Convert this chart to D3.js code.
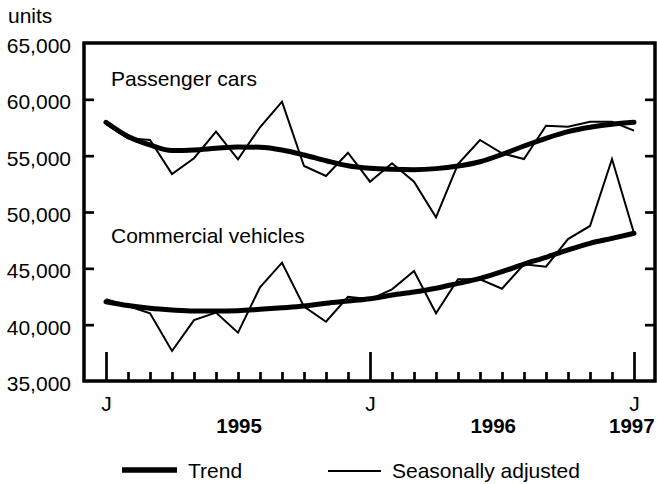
<!DOCTYPE html>
<html>
  <head>
    <meta charset="utf-8">
    <title>Passenger cars and commercial vehicles</title>
    <script src="https://d3js.org/d3.v7.min.js"></script>
    <style>
      body { margin: 0; background: #fff; }
      svg { font-family: "Liberation Sans", Arial, sans-serif; }
      .axis text { font-size: 21px; fill: #000; }
      .axis .domain { display: none; }
      .axis line { stroke: #000; stroke-width: 2.7px; }
      .label { font-size: 21px; fill: #000; }
      .year { font-size: 20.5px; font-weight: bold; fill: #000; }
    </style>
  </head>
  <body>
    <svg id="chart" width="657" height="484"></svg>
    <script>
      // chart data, monthly Jan 1995 - Jan 1997
      var months = d3.range(25);
      var yearStarts = [0, 12, 24];
      var yearLabels = ["1995", "1996", "1997"];
      var yearLabelPos = [6.05, 17.6, 23.9];
      var yTicks = [35000, 40000, 45000, 50000, 55000, 60000, 65000];
      var carsSA = [57800, 56540, 56390, 53370, 54770, 57130, 54680, 57520, 59790, 54080, 53200, 55260, 52690,
                    54320, 52690, 49530, 54260, 56390, 55210, 54700, 57660, 57570, 58010, 58010, 57220];
      var carsTrend = [57960, 56700, 55950, 55450, 55500, 55650, 55780, 55740, 55500, 55060, 54550, 54100, 53880,
                       53790, 53760, 53850, 54080, 54460, 55110, 55860, 56540, 57130, 57520, 57780, 57960];
      var commSA = [42250, 41660, 41010, 37660, 40410, 41070, 39290, 43320, 45500, 41600, 40260, 42480, 42250,
                    43140, 44760, 41010, 44030, 44030, 43190, 45360, 45150, 47600, 48760, 54700, 48110];
      var commTrend = [42040, 41700, 41450, 41300, 41210, 41210, 41240, 41360, 41500, 41660, 41900, 42100, 42300,
                       42630, 42900, 43230, 43670, 44110, 44700, 45380, 45980, 46630, 47220, 47660, 48110];

      var svg = d3.select("#chart");
      var frame = { left: 84, right: 655, top: 43, bottom: 381 };

      // scales
      var x = d3.scaleLinear()
        .domain([0, 24])
        .range([106, 634]);
      var y = d3.scaleLinear()
        .domain([35000, 65000])
        .range([frame.bottom, frame.top]);

      var line = d3.line()
        .x(function(d, i) { return x(months[i]); })
        .y(function(d) { return y(d); });
      var smooth = d3.line()
        .x(function(d, i) { return x(months[i]); })
        .y(function(d) { return y(d); })
        .curve(d3.curveMonotoneX);

      // y axis labels outside the frame
      svg.append("g")
        .attr("class", "axis")
        .attr("transform", "translate(" + frame.left + ",2)")
        .call(d3.axisLeft(y).tickValues(yTicks).tickSize(0).tickPadding(13).tickFormat(d3.format(",")))
        .selectAll("text")
          .attr("dy", "0.36em");

      // inner tick marks on both sides
      var inner = yTicks.slice(1, -1);
      svg.append("g")
        .attr("class", "axis")
        .attr("transform", "translate(" + frame.left + ",0)")
        .call(d3.axisRight(y).tickValues(inner).tickSize(10).tickFormat(""));
      svg.append("g")
        .attr("class", "axis")
        .attr("transform", "translate(" + frame.right + ",0)")
        .call(d3.axisLeft(y).tickValues(inner).tickSize(10).tickFormat(""));

      // month ticks
      svg.append("g")
        .attr("class", "axis")
        .attr("transform", "translate(0," + frame.bottom + ")")
        .call(d3.axisTop(x).tickValues(months.filter(function(m) { return m % 12 != 0; })).tickSize(9).tickFormat(""));
      svg.append("g")
        .attr("class", "axis")
        .attr("transform", "translate(0," + frame.bottom + ")")
        .call(d3.axisTop(x).tickValues(yearStarts).tickSize(29).tickFormat(""));
      svg.append("g")
        .attr("class", "axis")
        .attr("transform", "translate(0," + frame.bottom + ")")
        .call(d3.axisBottom(x).tickValues(yearStarts).tickSize(0).tickPadding(15).tickFormat(function() { return "J"; }));

      svg.selectAll(".year")
        .data(yearLabels)
        .enter().append("text")
          .attr("class", "year")
          .attr("text-anchor", "middle")
          .attr("x", function(d, i) { return x(yearLabelPos[i]); })
          .attr("y", 433)
          .text(function(d) { return d; });

      // frame
      svg.append("rect")
        .attr("x", frame.left)
        .attr("y", frame.top)
        .attr("width", frame.right - frame.left)
        .attr("height", frame.bottom - frame.top)
        .attr("fill", "none")
        .attr("stroke", "#000")
        .attr("stroke-width", 3.5);

      // series
      [carsTrend, commTrend].forEach(function(s) {
        svg.append("path")
          .attr("d", smooth(s))
          .attr("fill", "none")
          .attr("stroke", "#000")
          .attr("stroke-width", 5)
          .attr("stroke-linecap", "round");
      });
      [carsSA, commSA].forEach(function(s) {
        svg.append("path")
          .attr("d", line(s))
          .attr("fill", "none")
          .attr("stroke", "#000")
          .attr("stroke-width", 2)
          .attr("stroke-linejoin", "miter");
      });

      // series names
      svg.append("text").attr("class", "label").attr("x", 111).attr("y", 86).text("Passenger cars");
      svg.append("text").attr("class", "label").attr("x", 111).attr("y", 243).text("Commercial vehicles");
      svg.append("text").attr("class", "label").attr("x", 8).attr("y", 23).text("units");

      // legend
      svg.append("line")
        .attr("x1", 122).attr("x2", 177).attr("y1", 470).attr("y2", 470)
        .attr("stroke", "#000").attr("stroke-width", 5.5);
      svg.append("text").attr("class", "label").attr("x", 188).attr("y", 478).text("Trend");
      svg.append("line")
        .attr("x1", 328).attr("x2", 381).attr("y1", 471).attr("y2", 471)
        .attr("stroke", "#000").attr("stroke-width", 2);
      svg.append("text").attr("class", "label").attr("x", 392).attr("y", 478).text("Seasonally adjusted");
    </script>
  </body>
</html>
